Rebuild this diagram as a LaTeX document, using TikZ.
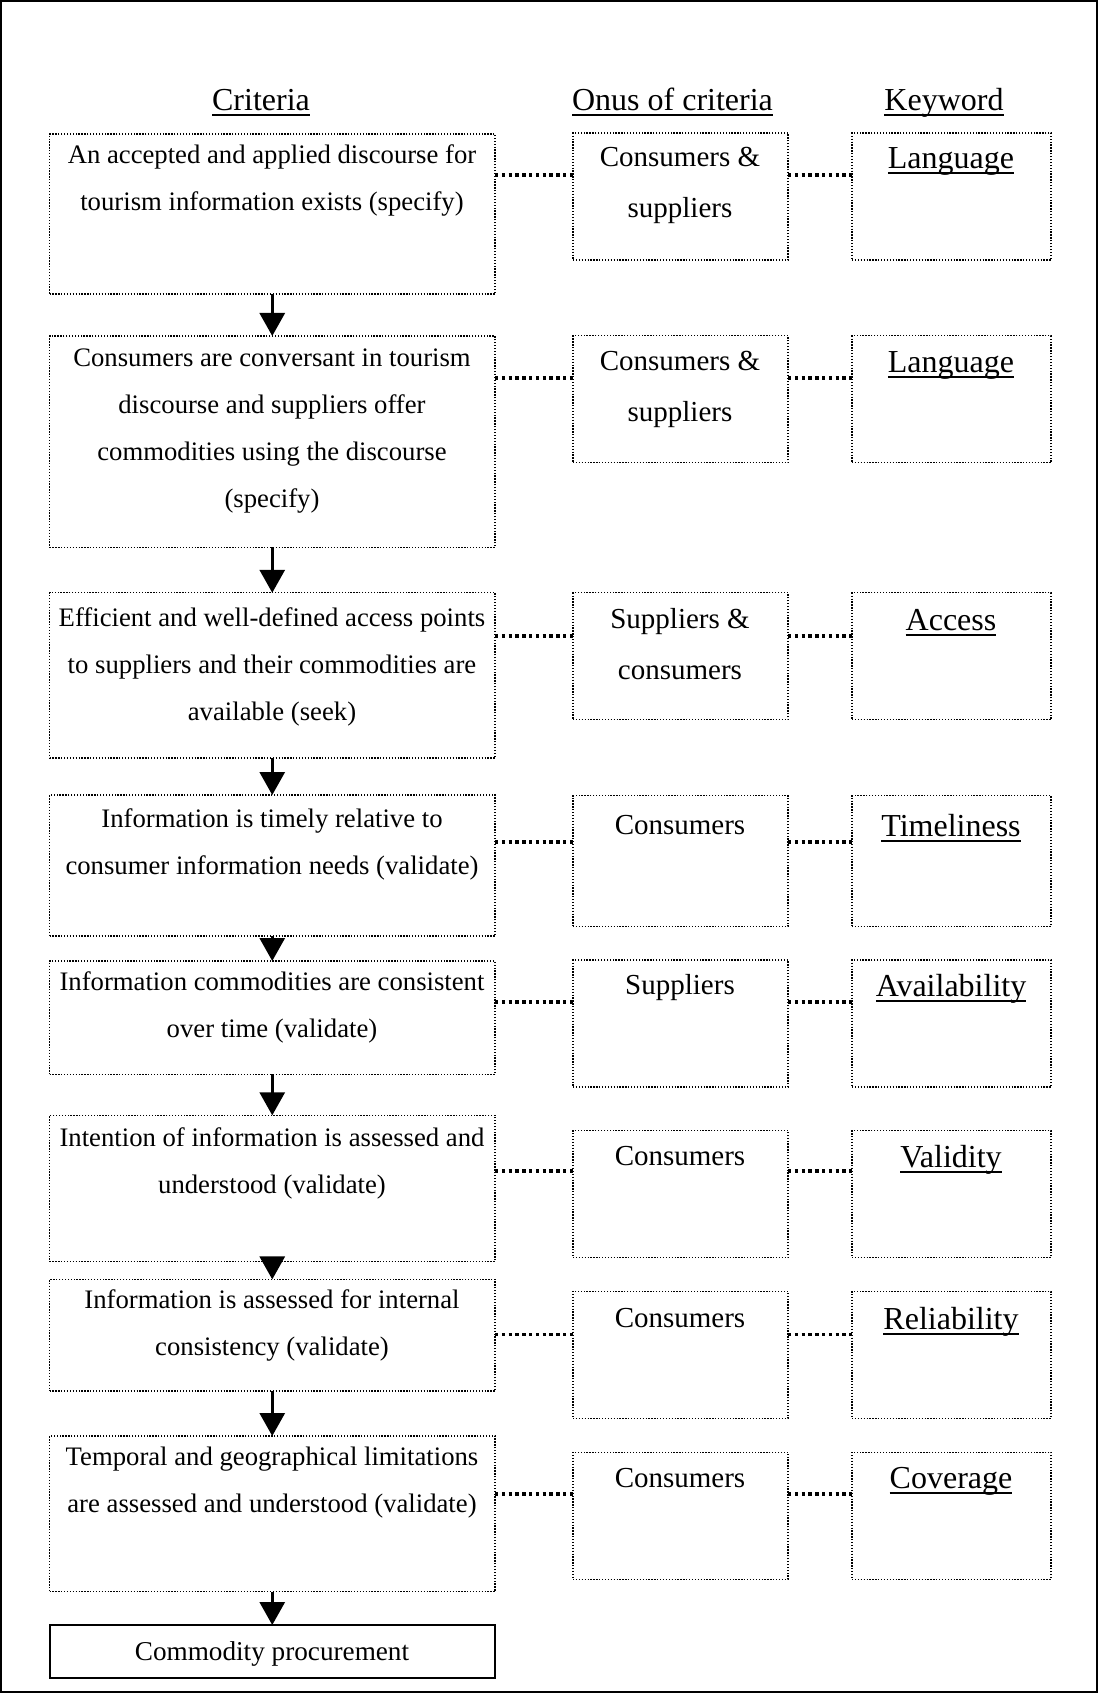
\documentclass[tikz,border=0pt]{standalone}
\usepackage{fontspec}
\setmainfont{Liberation Serif}
\usetikzlibrary{arrows.meta}

% underline drawn at a fixed depth below the baseline
\newsavebox{\ulbox}
\newcommand{\ulword}[1]{\sbox{\ulbox}{#1}\rlap{\rule[-6pt]{\wd\ulbox}{1.9pt}}\usebox{\ulbox}}
% fixed-height first line, so a node's north edge sits 30pt above its first baseline
\newcommand{\firstline}{\rule{0pt}{30pt}}

\begin{document}
\begin{tikzpicture}[x=1pt,y=-1pt,
  dotbox/.style={draw, line width=1.3pt, dash pattern=on 1.3pt off 1.6pt, inner sep=0pt, outer sep=0pt},
  critbox/.style={dotbox, minimum width=445.5pt},
  onusbox/.style={dotbox, minimum width=215pt, minimum height=127pt},
  keybox/.style={dotbox, minimum width=199pt, minimum height=127pt},
  endbox/.style={draw, line width=2pt, minimum width=445.5pt, minimum height=53pt, inner sep=0pt, outer sep=0pt},
  crittext/.style={anchor=north, inner sep=0pt, align=center, font=\fontsize{26.7pt}{47pt}\selectfont},
  onustext/.style={anchor=north, inner sep=0pt, align=center, font=\fontsize{29pt}{51pt}\selectfont},
  keytext/.style={anchor=north, inner sep=0pt, align=center, font=\fontsize{32pt}{40pt}\selectfont},
  colhead/.style={keytext},
  link/.style={line width=3.2pt, dash pattern=on 3.4pt off 3.4pt},
  flow/.style={line width=3pt, -{Triangle[width=25pt,length=23pt]}},
]
\useasboundingbox (0,0) rectangle (1098,1693);
\draw[line width=2pt] (1,1) rectangle (1097,1692);

% column headings
\node[colhead] (h1) at (261,80) {\firstline\ulword{Criteria}};
\node[colhead] (h2) at (672.5,80) {\firstline\ulword{Onus of criteria}};
\node[colhead] (h3) at (944,80) {\firstline\ulword{Keyword}};

% criteria boxes
\node[critbox, minimum height=160pt]   (c1) at (272.25,214) {};
\node[critbox, minimum height=211.4pt] (c2) at (272.25,441.7) {};
\node[critbox, minimum height=165.2pt] (c3) at (272.25,675.4) {};
\node[critbox, minimum height=141pt]   (c4) at (272.25,865.5) {};
\node[critbox, minimum height=113.3pt] (c5) at (272.25,1017.65) {};
\node[critbox, minimum height=146.2pt] (c6) at (272.25,1188.4) {};
\node[critbox, minimum height=111.6pt] (c7) at (272.25,1335.2) {};
\node[critbox, minimum height=155.6pt] (c8) at (272.25,1513.8) {};
\node[endbox] (cp) at (272.25,1651.5) {};

% criteria texts
\node[crittext] (ct1) at (272,133) {\firstline An accepted and applied discourse for\\tourism information exists (specify)};
\node[crittext] (ct2) at (272,336) {\firstline Consumers are conversant in tourism\\discourse and suppliers offer\\commodities using the discourse\\(specify)};
\node[crittext] (ct3) at (272,596) {\firstline Efficient and well-defined access points\\to suppliers and their commodities are\\available (seek)};
\node[crittext] (ct4) at (272,797) {\firstline Information is timely relative to\\consumer information needs (validate)};
\node[crittext] (ct5) at (272,960) {\firstline Information commodities are consistent\\over time (validate)};
\node[crittext] (ct6) at (272,1116) {\firstline Intention of information is assessed and\\understood (validate)};
\node[crittext] (ct7) at (272,1278) {\firstline Information is assessed for internal\\consistency (validate)};
\node[crittext] (ct8) at (272,1435) {\firstline Temporal and geographical limitations\\are assessed and understood (validate)};
\node[crittext, font=\fontsize{27.2pt}{47pt}\selectfont] (cpt) at (272,1630) {\firstline Commodity procurement};

% onus boxes
\node[onusbox] (o1) at (680.5,196.5) {};
\node[onusbox] (o2) at (680.5,399.3) {};
\node[onusbox] (o3) at (680.5,656.3) {};
\node[onusbox, minimum height=130.7pt] (o4) at (680.5,861) {};
\node[onusbox] (o5) at (680.5,1023.4) {};
\node[onusbox] (o6) at (680.5,1193.9) {};
\node[onusbox] (o7) at (680.5,1354.8) {};
\node[onusbox] (o8) at (680.5,1515.7) {};

\node[onustext] (ot1) at (680,136) {\firstline Consumers \&\\suppliers};
\node[onustext] (ot2) at (680,340) {\firstline Consumers \&\\suppliers};
\node[onustext] (ot3) at (680,598) {\firstline Suppliers \&\\consumers};
\node[onustext] (ot4) at (680,804) {\firstline Consumers};
\node[onustext] (ot5) at (680,964) {\firstline Suppliers};
\node[onustext] (ot6) at (680,1135) {\firstline Consumers};
\node[onustext] (ot7) at (680,1297) {\firstline Consumers};
\node[onustext] (ot8) at (680,1457) {\firstline Consumers};

% keyword boxes
\node[keybox] (k1) at (951.5,196.5) {};
\node[keybox] (k2) at (951.5,399.3) {};
\node[keybox] (k3) at (951.5,656.3) {};
\node[keybox, minimum height=130.7pt] (k4) at (951.5,861) {};
\node[keybox] (k5) at (951.5,1023.4) {};
\node[keybox] (k6) at (951.5,1193.9) {};
\node[keybox] (k7) at (951.5,1354.8) {};
\node[keybox] (k8) at (951.5,1515.7) {};

\node[keytext] (kt1) at (951,138) {\firstline\ulword{Language}};
\node[keytext] (kt2) at (951,342) {\firstline\ulword{Language}};
\node[keytext] (kt3) at (951,600) {\firstline\ulword{Access}};
\node[keytext] (kt4) at (951,806) {\firstline\ulword{Timeliness}};
\node[keytext] (kt5) at (951,966) {\firstline\ulword{Availability}};
\node[keytext] (kt6) at (951,1137) {\firstline\ulword{Validity}};
\node[keytext] (kt7) at (951,1299) {\firstline\ulword{Reliability}};
\node[keytext] (kt8) at (951,1458) {\firstline\ulword{Coverage}};

% heights of the dotted links
\coordinate (y1) at (0,175);
\coordinate (y2) at (0,378);
\coordinate (y3) at (0,636);
\coordinate (y4) at (0,842);
\coordinate (y5) at (0,1002);
\coordinate (y6) at (0,1171);
\coordinate (y7) at (0,1334.5);
\coordinate (y8) at (0,1494);

\foreach \i in {1,...,8}{
  \draw[link] (c\i.east |- y\i) -- (o\i.west |- y\i);
  \draw[link] (o\i.east |- y\i) -- (k\i.west |- y\i);
}

% flow down the criteria column
\draw[flow] (c1.south) -- (c2.north);
\draw[flow] (c2.south) -- (c3.north);
\draw[flow] (c3.south) -- (c4.north);
\draw[flow] (c4.south) -- (c5.north);
\draw[flow] (c5.south) -- (c6.north);
\draw[flow] (c6.south) -- (c7.north);
\draw[flow] (c7.south) -- (c8.north);
\draw[flow] (c8.south) -- (cp.north);
\end{tikzpicture}
\end{document}
